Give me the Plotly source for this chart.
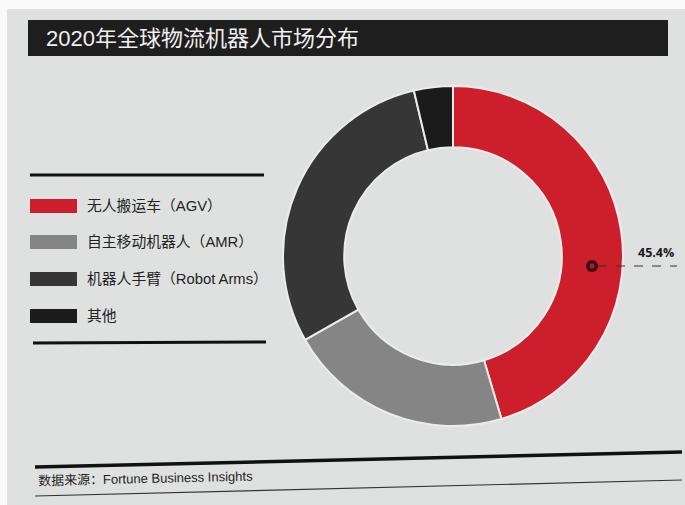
import plotly.graph_objects as go

# Market share of logistics robots, 2020 (%)
categories = ["无人搬运车（AGV）", "自主移动机器人（AMR）", "机器人手臂（Robot Arms）", "其他"]
shares = [45.4, 21.4, 29.5, 3.7]
colors = ["#cc1f2b", "#858585", "#363636", "#1b1b1b"]

title_text = "2020年全球物流机器人市场分布"
source_text = "数据来源：Fortune Business Insights"
highlight_label = f"{shares[0]}%"

W, H = 685, 505
FONT = "Liberation Sans, Noto Sans CJK SC, sans-serif"
PAPER = "#dfe1e1"


def px(x):
    return x / W


def py(y):
    return 1 - y / H


shapes = []
annotations = []

# page area
shapes.append(dict(type="rect", xref="paper", yref="paper",
                   x0=px(7), x1=px(W), y0=py(H), y1=py(9),
                   fillcolor=PAPER, line=dict(width=0), layer="below"))

# title bar
shapes.append(dict(type="rect", xref="paper", yref="paper",
                   x0=px(28), x1=px(668), y0=py(56), y1=py(20),
                   fillcolor="#1e1e1e", line=dict(width=0)))
annotations.append(dict(text=title_text, xref="paper", yref="paper",
                        x=px(44), y=py(39), xanchor="left", yanchor="middle",
                        showarrow=False,
                        font=dict(family=FONT, size=22, color="#f0f0f0")))

# legend block framed by two rules
shapes.append(dict(type="line", xref="paper", yref="paper",
                   x0=px(30), x1=px(264), y0=py(175), y1=py(175),
                   line=dict(color="#111111", width=3)))
shapes.append(dict(type="line", xref="paper", yref="paper",
                   x0=px(33), x1=px(266), y0=py(343), y1=py(342),
                   line=dict(color="#111111", width=3)))
row_y = [206, 242, 279, 316]
for name, col, yc in zip(categories, colors, row_y):
    shapes.append(dict(type="rect", xref="paper", yref="paper",
                       x0=px(30), x1=px(77), y0=py(yc + 7), y1=py(yc - 7),
                       fillcolor=col, line=dict(width=0)))
    annotations.append(dict(text=name, xref="paper", yref="paper",
                            x=px(85), y=py(yc), xanchor="left", yanchor="middle",
                            showarrow=False,
                            font=dict(family=FONT, size=14.8, color="#222222")))

# donut
cx, cy, R = 453, 256, 170
pie = go.Pie(
    labels=categories, values=shares, sort=False, direction="clockwise",
    rotation=0, hole=0.64, textinfo="none", hoverinfo="label+percent",
    marker=dict(colors=colors, line=dict(color="#ececec", width=2)),
    domain=dict(x=[px(cx - R), px(cx + R)], y=[py(cy + R), py(cy - R)]),
    showlegend=False,
)

# callout for the largest share
mx, my = 592, 266
shapes.append(dict(type="line", xref="paper", yref="paper",
                   x0=px(mx + 6), x1=px(677), y0=py(my), y1=py(my),
                   line=dict(color="#333333", width=1, dash="dash")))
shapes.append(dict(type="circle", xref="paper", yref="paper",
                   x0=px(mx - 6), x1=px(mx + 6), y0=py(my + 6), y1=py(my - 6),
                   fillcolor="#3a1014", line=dict(width=0)))
shapes.append(dict(type="circle", xref="paper", yref="paper",
                   x0=px(mx - 2.5), x1=px(mx + 2.5), y0=py(my + 2.5), y1=py(my - 2.5),
                   fillcolor="#a3202c", line=dict(width=0)))
annotations.append(dict(text=f"<b>{highlight_label}</b>", xref="paper", yref="paper",
                        x=px(676), y=py(252), xanchor="right", yanchor="middle",
                        showarrow=False,
                        font=dict(family="Open Sans", size=12.5, color="#1a1a1a")))

# source footer
shapes.append(dict(type="line", xref="paper", yref="paper",
                   x0=px(35), x1=px(682), y0=py(467), y1=py(452),
                   line=dict(color="#111111", width=3.5)))
shapes.append(dict(type="line", xref="paper", yref="paper",
                   x0=px(35), x1=px(682), y0=py(496), y1=py(480),
                   line=dict(color="#333333", width=1.2)))
annotations.append(dict(text=source_text, xref="paper", yref="paper",
                        x=px(36), y=py(478), xanchor="left", yanchor="middle",
                        showarrow=False, textangle=-1.3,
                        font=dict(family=FONT, size=13, color="#1e1e1e")))

fig = go.Figure(pie)
fig.update_layout(
    width=W, height=H,
    margin=dict(l=0, r=0, t=0, b=0),
    paper_bgcolor="#fafafa", plot_bgcolor="#fafafa",
    shapes=shapes, annotations=annotations,
)
fig.write_html("out.html")
